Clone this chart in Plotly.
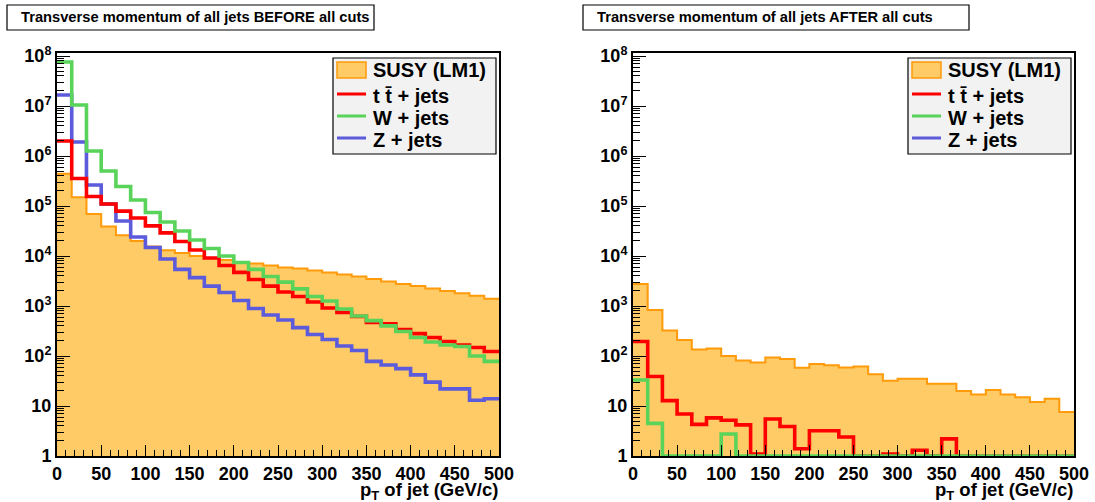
import numpy as np
import plotly.graph_objects as go

# ---- binning: 30 bins of jet pT from 0 to 500 GeV/c ----
PT_MIN, PT_MAX, N_BINS = 0.0, 500.0, 30
bin_edges = np.linspace(PT_MIN, PT_MAX, N_BINS + 1)

# ---- jet pT spectra before all cuts (entries per bin) ----
susy_before = [4.4e5, 1.5e5, 6.9e4, 3.9e4, 2.6e4, 2.0e4, 1.55e4, 1.3e4, 1.15e4, 1.0e4,
               9100, 8300, 7400, 7100, 6450, 5900, 5600, 5100, 4700, 4250,
               3900, 3450, 3100, 2750, 2500, 2250, 2000, 1800, 1600, 1400]
ttbar_before = [2.0e6, 3.55e5, 1.55e5, 1.1e5, 7.9e4, 5.75e4, 4.0e4, 2.9e4, 1.95e4, 1.32e4,
                9100, 6450, 4700, 3400, 2500, 1900, 1550, 1200, 910, 740,
                620, 470, 440, 340, 280, 234, 195, 166, 148, 123]
wjets_before = [7.6e7, 1.05e7, 1.26e6, 5.0e5, 2.45e5, 1.32e5, 7.4e4, 4.8e4, 3.16e4, 2.09e4,
                1.41e4, 1.0e4, 7400, 5400, 3900, 3000, 2200, 1550, 1260, 870,
                630, 510, 400, 310, 234, 190, 166, 155, 100, 78]
zjets_before = [1.66e7, 1.9e6, 2.63e5, 1.1e5, 5.0e4, 2.4e4, 1.48e4, 8700, 5400, 3700,
                2500, 1860, 1290, 890, 660, 525, 370, 270, 214, 158,
                129, 78, 66, 56, 42, 30, 22, 22, 13, 14]

# ---- jet pT spectra after all cuts ----
susy_after = [2750, 830, 324, 209, 135, 141, 100, 81, 74, 93,
              87, 58, 69, 65, 59, 62, 43, 32, 35, 35,
              28, 28, 20, 17, 21, 17, 15, 12, 14, 7.6]
ttbar_after = [195, 39, 12.8, 6.9, 4.3, 5.8, 5.2, 4.2, 1.1, 5.5,
               3.9, 1.4, 3.2, 3.2, 2.4, 0, 0, 1.1, 0, 1.3,
               0, 2.2, 0, 0, 0, 0, 0, 0, 0, 0]
wjets_after = [33, 4.5, 0, 0, 0, 0, 2.75, 0, 0, 0,
               0, 0, 0, 0, 0, 0, 0, 0, 0, 0,
               0, 0, 0, 0, 0, 0, 0, 0, 0, 0]
zjets_after = [0] * N_BINS

# ---- axis labels ----
y_decades = list(range(0, 9))
y_tick_text = ["1", "10"] + [f"10<sup>{d}</sup>" for d in y_decades[2:]]
x_tick_vals = list(range(0, 501, 50))
panel_titles = ["Transverse momentum of all jets BEFORE all cuts",
                "Transverse momentum of all jets AFTER all cuts"]
x_title = "p<sub>T</sub> of jet (GeV/c)"
legend_labels = ["SUSY (LM1)", "t t\u0304 + jets", "W + jets", "Z + jets"]

# ---- styles ----
W, H = 1095, 502
FONT = "Liberation Sans, Arial, Helvetica, sans-serif"
SUSY_FILL, SUSY_LINE = "#FECB66", "#FF9A0A"
TT_COLOR, W_COLOR, Z_COLOR = "#FF0000", "#5AD35A", "#5B5BDC"
LINE_W = 3.6
Y_FLOOR = 1.0          # lower edge of the log axis; empty bins sit on it
Y_TOP_LOG = 8.06

# panel frames in pixels (left, right, top, bottom)
panels = [(57, 499, 53, 456), (633, 1074, 53, 456)]


def px(x):
    return x / W


def py(y):
    return 1 - y / H


def step_xy(values):
    v = np.maximum(np.asarray(values, dtype=float), Y_FLOOR)
    return bin_edges, np.append(v, v[-1])


fig = go.Figure()

datasets = [
    (susy_before, ttbar_before, wjets_before, zjets_before),
    (susy_after, ttbar_after, wjets_after, zjets_after),
]

for i, (susy, tt, wj, zj) in enumerate(datasets):
    xa = "x" if i == 0 else "x2"
    ya = "y" if i == 0 else "y2"
    sx, sy = step_xy(susy)
    fig.add_trace(go.Scatter(x=sx, y=sy, mode="lines", line_shape="hv",
                             fill="tozeroy", fillcolor=SUSY_FILL,
                             line=dict(color=SUSY_LINE, width=2),
                             name=legend_labels[0], xaxis=xa, yaxis=ya,
                             showlegend=False, hoverinfo="skip"))
    for vals, col, name in [(zj, Z_COLOR, legend_labels[3]),
                            (tt, TT_COLOR, legend_labels[1]),
                            (wj, W_COLOR, legend_labels[2])]:
        if not any(v > 0 for v in vals):
            continue  # an empty histogram draws nothing
        lx, ly = step_xy(vals)
        fig.add_trace(go.Scatter(x=lx, y=ly, mode="lines", line_shape="hv",
                                 line=dict(color=col, width=LINE_W),
                                 name=name, xaxis=xa, yaxis=ya,
                                 showlegend=False, hoverinfo="skip"))

minor_y = [k * 10 ** d for d in range(0, 8) for k in range(2, 10)]
minor_x = [v for v in range(0, 501, 10) if v % 50]

axis_common = dict(showline=True, linecolor="black", linewidth=2, mirror=True,
                   showgrid=False, zeroline=False, ticks="inside",
                   tickcolor="black", tickwidth=1.3, automargin=False,
                   tickfont=dict(family=FONT, size=18, color="black", weight="bold"))

layout_axes = {}
for i, (l, r, t, b) in enumerate(panels):
    sfx = "" if i == 0 else "2"
    layout_axes["xaxis" + sfx] = dict(
        axis_common, domain=[px(l), px(r)], range=[PT_MIN, PT_MAX],
        anchor="y" + sfx, tickmode="array", tickvals=x_tick_vals, ticklen=11,
        ticklabelstandoff=0,
        minor=dict(tickmode="array", tickvals=minor_x, ticks="inside",
                   ticklen=6, tickcolor="black", tickwidth=1.3),
    )
    layout_axes["yaxis" + sfx] = dict(
        axis_common, domain=[py(b), py(t)], type="log",
        range=[np.log10(Y_FLOOR), Y_TOP_LOG], anchor="x" + sfx,
        tickmode="array", tickvals=[10 ** d for d in y_decades],
        ticktext=y_tick_text, ticklen=13,
        minor=dict(tickmode="array", tickvals=minor_y, ticks="inside",
                   ticklen=7, tickcolor="black", tickwidth=1.3),
    )

shapes, annotations = [], []
legend_rows = [70, 96, 118, 140]
line_cols = [TT_COLOR, W_COLOR, Z_COLOR]

for i, (l, r, t, b) in enumerate(panels):
    # boxed panel title
    bx0 = 7 if i == 0 else 583
    bx1 = 374 if i == 0 else 969
    shapes.append(dict(type="rect", xref="paper", yref="paper",
                       x0=px(bx0), x1=px(bx1), y0=py(30), y1=py(5),
                       line=dict(color="black", width=1.2), fillcolor="white"))
    annotations.append(dict(xref="paper", yref="paper", x=px(bx0 + 12), y=py(17.5),
                            xanchor="left", yanchor="middle", showarrow=False,
                            text=panel_titles[i],
                            font=dict(family=FONT, size=14.7, color="black", weight="bold")))
    # x-axis title, right aligned under the axis
    annotations.append(dict(xref="paper", yref="paper", x=px(r + 1), y=py(477),
                            xanchor="right", yanchor="top", showarrow=False,
                            text=x_title,
                            font=dict(family=FONT, size=18.5, color="black", weight="bold")))
    # legend box
    lx0, lx1 = r - 166, r - 3
    shapes.append(dict(type="rect", xref="paper", yref="paper",
                       x0=px(lx0), x1=px(lx1), y0=py(154), y1=py(58),
                       line=dict(color="black", width=1.2), fillcolor="#F2F2F2"))
    sw0, sw1 = lx0 + 4, lx0 + 33
    shapes.append(dict(type="rect", xref="paper", yref="paper",
                       x0=px(sw0), x1=px(sw1), y0=py(legend_rows[0] + 8),
                       y1=py(legend_rows[0] - 8),
                       line=dict(color=SUSY_LINE, width=1.5), fillcolor=SUSY_FILL))
    for row, col in zip(legend_rows[1:], line_cols):
        shapes.append(dict(type="line", xref="paper", yref="paper",
                           x0=px(sw0), x1=px(sw1), y0=py(row - 2), y1=py(row - 2),
                           line=dict(color=col, width=3)))
    for row, lab in zip(legend_rows, legend_labels):
        annotations.append(dict(xref="paper", yref="paper", x=px(lx0 + 38), y=py(row),
                                xanchor="left", yanchor="middle", showarrow=False,
                                text=lab,
                                font=dict(family=FONT, size=20, color="black", weight="bold")))

fig.update_layout(
    width=W, height=H, margin=dict(l=0, r=0, t=0, b=0),
    paper_bgcolor="white", plot_bgcolor="white",
    showlegend=False, shapes=shapes, annotations=annotations,
    **layout_axes,
)

fig.write_html("out.html")
